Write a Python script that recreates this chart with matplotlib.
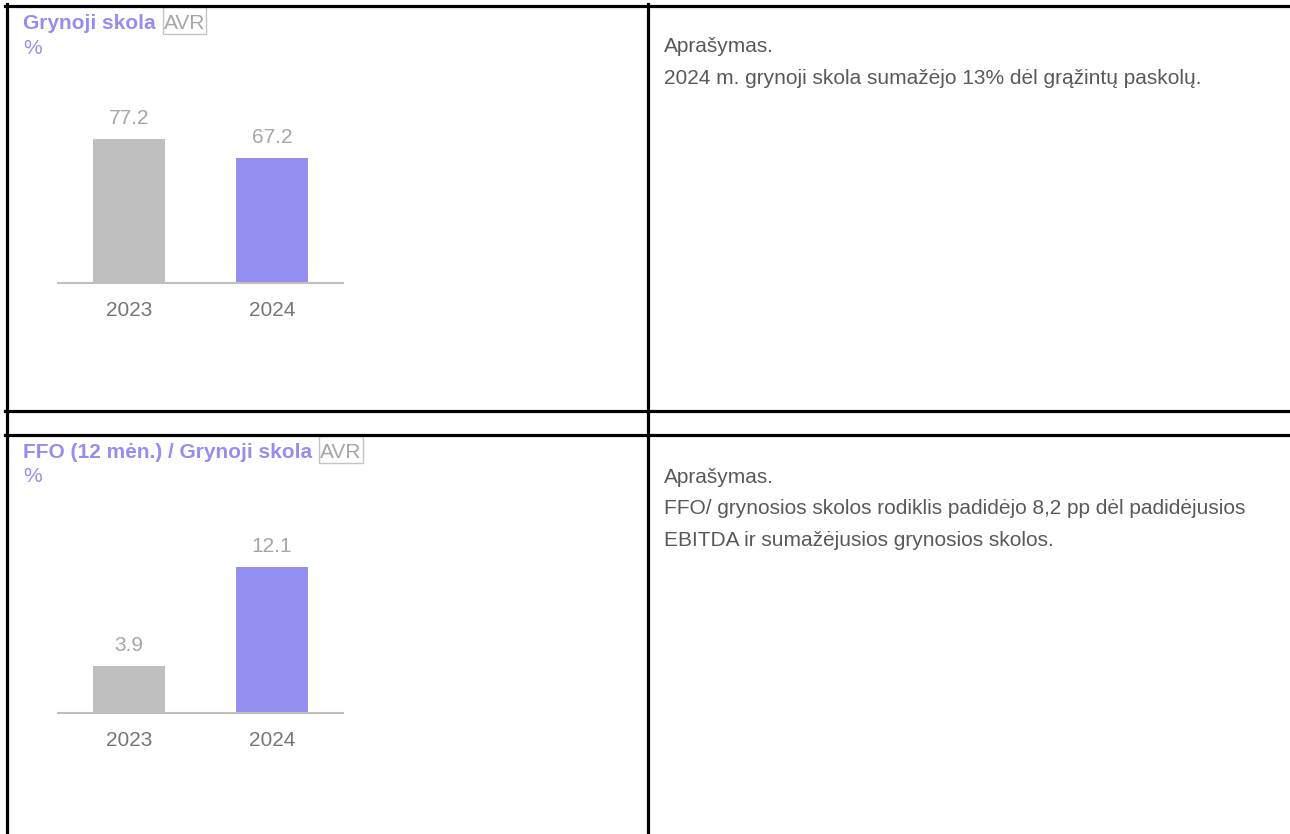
import matplotlib
matplotlib.use("Agg")
import matplotlib.pyplot as plt
from matplotlib.lines import Line2D
from matplotlib.patches import Rectangle

plt.rcParams['font.family'] = ['Liberation Sans', 'DejaVu Sans']

# data
years = ["2023", "2024"]
debt_values = [77.2, 67.2]
ffo_values = [3.9, 12.1]
bar_colors = ["#bfbfbf", "#938ef0"]

titles = ["Grynoji skola", "FFO (12 mėn.) / Grynoji skola"]
unit = "%"
badge = "AVR"
descriptions = [
    "Aprašymas.\n2024 m. grynoji skola sumažėjo 13% dėl grąžintų paskolų.",
    "Aprašymas.\nFFO/ grynosios skolos rodiklis padidėjo 8,2 pp dėl padidėjusios\nEBITDA ir sumažėjusios grynosios skolos.",
]

W, H = 1290, 834
PURPLE = "#938ef0"
FS = 15
fig = plt.figure(figsize=(W / 100, H / 100), dpi=100)


def fx(x):
    return x / W


def fy(y):
    return 1 - y / H


def hline(y, x0, x1):
    fig.add_artist(Line2D([fx(x0), fx(x1)], [fy(y), fy(y)], color="black", lw=2.3, transform=fig.transFigure))


def vline(x, y0, y1):
    fig.add_artist(Line2D([fx(x), fx(x)], [fy(y0), fy(y1)], color="black", lw=2.3, transform=fig.transFigure))


# table borders
hline(5.7, 5, W)
hline(410.5, 5, W)
hline(434.5, 5, W)
vline(6.7, 4, H)
vline(648, 4, H)


def draw_chart(values, base_y, top_val, px_per_unit, title_base, title):
    height_px = top_val * px_per_unit
    ax = fig.add_axes([fx(58), fy(base_y), fx(343) - fx(58), height_px / H])
    x = [0, 1]
    ax.bar(x, values, width=0.5, color=bar_colors)
    ax.set_xlim(-0.4965, 1.4965)
    ax.set_ylim(0, top_val)
    for sp in ["top", "right", "left"]:
        ax.spines[sp].set_visible(False)
    ax.spines["bottom"].set_color("#bfbfbf")
    ax.spines["bottom"].set_linewidth(1.5)
    ax.set_yticks([])
    ax.set_xticks(x)
    ax.set_xticklabels(years, fontsize=FS, color="#767676")
    ax.tick_params(axis="x", length=0, pad=13)
    for xi, v in zip(x, values):
        ax.annotate(f"{v:.1f}", (xi, v), xytext=(0, 8), textcoords="offset points",
                    ha="center", va="bottom", fontsize=FS, color="#a6a6a6")

    t = fig.text(fx(23), fy(title_base), title, fontsize=FS, fontweight="bold",
                 color=PURPLE, ha="left", va="baseline")
    fig.canvas.draw()
    bb = t.get_window_extent()
    b = fig.text(bb.x1 / W + fx(8), fy(title_base), badge, fontsize=FS, color="#a6a6a6",
                 ha="left", va="baseline")
    fig.canvas.draw()
    bb2 = b.get_window_extent()
    # badge frame, a bit taller above the text than below
    fig.add_artist(Rectangle((fx(bb2.x0 - 1), fy(title_base + 4.5)), (bb2.width + 2) / W, 26.5 / H,
                             transform=fig.transFigure, fill=False, ec="#c4c4c4", lw=1))
    fig.text(fx(23), fy(title_base + 24.5), unit, fontsize=FS, color=PURPLE, ha="left", va="baseline")


draw_chart(debt_values, 283, 100, 1.865, 29, titles[0])
draw_chart(ffo_values, 713, 15, 12.07, 458, titles[1])

fig.text(fx(664), fy(37), descriptions[0], fontsize=FS, color="#595959",
         ha="left", va="top", linespacing=1.85)
fig.text(fx(664), fy(468), descriptions[1], fontsize=FS, color="#595959",
         ha="left", va="top", linespacing=1.82)

fig.savefig("out.png", dpi=100, facecolor="white")
